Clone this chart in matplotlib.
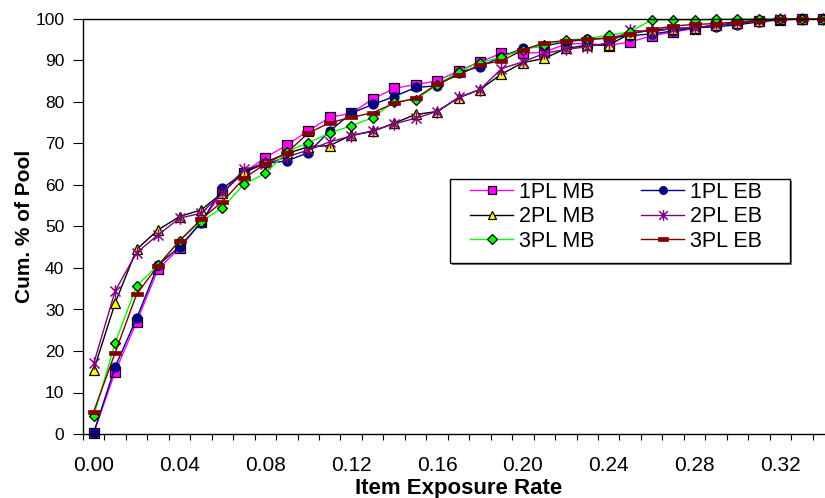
import matplotlib
matplotlib.use("Agg")
import matplotlib.pyplot as plt
from matplotlib.path import Path
from matplotlib.patches import Rectangle
import numpy as np

# ---- data ----
categories = ["0.00", "0.01", "0.02", "0.03", "0.04", "0.05", "0.06", "0.07", "0.08", "0.09",
              "0.10", "0.11", "0.12", "0.13", "0.14", "0.15", "0.16", "0.17", "0.18", "0.19",
              "0.20", "0.21", "0.22", "0.23", "0.24", "0.25", "0.26", "0.27", "0.28", "0.29",
              "0.30", "0.31", "0.32", "0.33", "0.34"]
tick_labels = ["0.00", "0.04", "0.08", "0.12", "0.16", "0.20", "0.24", "0.28", "0.32"]

pl1_mb = [0.3, 15.0, 27.0, 39.7, 44.8, 51.0, 58.3, 63.0, 66.6, 69.6,
          73.1, 76.3, 77.3, 80.7, 83.3, 84.2, 85.1, 87.5, 89.7, 91.7,
          91.7, 92.0, 94.0, 94.1, 93.6, 94.5, 95.9, 96.9, 97.7, 98.5,
          99.0, 99.6, 99.8, 100.0, 100.0]
pl1_eb = [0.3, 16.2, 27.9, 40.7, 45.1, 50.9, 59.2, 63.0, 65.2, 65.8,
          67.8, 73.0, 77.3, 79.4, 81.3, 83.5, 83.9, 87.1, 88.5, 90.9,
          92.9, 93.5, 94.5, 95.1, 95.4, 96.0, 96.4, 97.1, 97.9, 98.1,
          98.6, 99.3, 99.8, 100.0, 100.0]
pl2_mb = [15.4, 31.6, 44.5, 49.2, 52.4, 54.0, 58.1, 63.2, 65.5, 67.6,
          69.2, 69.5, 72.0, 72.9, 74.9, 77.0, 77.7, 81.0, 83.0, 86.7,
          89.5, 90.5, 92.9, 93.7, 93.7, 96.5, 97.3, 97.7, 97.9, 98.5,
          99.0, 99.5, 100.0, 100.0, 100.0]
pl2_eb = [17.0, 34.5, 43.7, 48.0, 52.0, 53.2, 58.0, 63.8, 65.0, 66.8,
          68.4, 70.4, 71.8, 73.1, 74.7, 76.1, 77.7, 81.1, 83.0, 88.0,
          89.7, 91.7, 92.7, 93.3, 94.3, 97.3, 96.9, 97.7, 97.9, 98.5,
          99.0, 99.5, 100.0, 100.0, 100.0]
pl3_mb = [4.3, 22.0, 35.7, 40.7, 46.6, 51.2, 54.5, 60.2, 62.8, 68.0,
          70.2, 72.5, 74.3, 76.2, 80.1, 80.6, 84.1, 87.3, 89.5, 90.8,
          92.6, 93.7, 94.9, 95.3, 96.1, 96.9, 99.8, 99.8, 99.8, 99.9,
          100.0, 100.0, 100.0, 100.0, 100.0]
pl3_eb = [5.4, 19.6, 33.7, 40.6, 46.6, 51.7, 56.0, 61.6, 65.1, 67.8,
          72.5, 75.0, 76.3, 77.4, 79.7, 80.9, 84.3, 86.5, 89.0, 89.9,
          92.5, 94.3, 94.8, 95.1, 95.4, 96.5, 97.5, 98.3, 98.7, 98.9,
          99.3, 99.7, 100.0, 100.0, 100.0]

series_names = ["1PL MB", "1PL EB", "2PL MB", "2PL EB", "3PL MB", "3PL EB"]

# ---- styles ----
star = Path([(-1, -1), (1, 1), (-1, 1), (1, -1), (0, -1.25), (0, 1.25)],
            [Path.MOVETO, Path.LINETO, Path.MOVETO, Path.LINETO, Path.MOVETO, Path.LINETO])
dash = Path([(-1, -0.3), (1, -0.3), (1, 0.3), (-1, 0.3), (-1, -0.3)],
            [Path.MOVETO, Path.LINETO, Path.LINETO, Path.LINETO, Path.CLOSEPOLY])

styles = {
    "1PL MB": dict(color="#FF00FF", marker="s", ms=6.5, mfc="#FF00FF", mec="black", mew=0.9),
    "1PL EB": dict(color="#000080", marker="o", ms=6.5, mfc="#000080", mec="#000080", mew=0.9),
    "2PL MB": dict(color="black", marker="^", ms=7.5, mfc="#FFFF00", mec="black", mew=0.9),
    "2PL EB": dict(color="#800080", marker=star, ms=9, mfc="#800080", mec="#800080", mew=1.1),
    "3PL MB": dict(color="#00FF00", marker="D", ms=5.5, mfc="#00FF00", mec="black", mew=0.9),
    "3PL EB": dict(color="#800000", marker=dash, ms=9, mfc="#800000", mec="#800000", mew=0.5),
}
data = {"1PL MB": pl1_mb, "1PL EB": pl1_eb, "2PL MB": pl2_mb,
        "2PL EB": pl2_eb, "3PL MB": pl3_mb, "3PL EB": pl3_eb}

plt.rcParams["font.family"] = ["Liberation Sans", "DejaVu Sans"]

fig = plt.figure(figsize=(8.25, 4.98), dpi=100)
W, H = 825, 498
left_px, right_px, top_px, bot_px = 83, 834, 19, 434
ax = fig.add_axes([left_px / W, 1 - bot_px / H, (right_px - left_px) / W, (bot_px - top_px) / H])

x = np.arange(len(categories))
handles = {}
for name in series_names:
    st = styles[name]
    (h,) = ax.plot(x, data[name], linewidth=1.0, clip_on=False, **st)
    handles[name] = h

ax.set_xlim(-0.5, len(categories) - 0.5)
ax.set_ylim(0, 100)
ax.set_yticks(np.arange(0, 101, 10))
ax.tick_params(axis="y", direction="out", length=7.5, width=0.8, labelsize=12.5, pad=6)

label_pos = [categories.index(t) for t in tick_labels]
ax.set_xticks(label_pos)
ax.set_xticklabels(tick_labels, fontsize=15)
ax.set_xticks(np.arange(-0.5, len(categories), 1.0), minor=True)
ax.tick_params(axis="x", which="major", length=0, pad=16)
ax.tick_params(axis="x", which="minor", direction="out", length=4.3, width=0.8)

for sp in ax.spines.values():
    sp.set_linewidth(1.0)
    sp.set_color("black")

ax.set_xlabel("Item Exposure Rate", fontsize=16, fontweight="bold", labelpad=2)
ax.set_ylabel("Cum. % of Pool", fontsize=15, fontweight="bold", labelpad=1)

# legend frame drawn explicitly (Excel style box with shadow)
bx0, by_top, bx1, by_bot = 450, 179, 790, 263
fig.add_artist(Rectangle(((bx0 + 2) / W, 1 - (by_bot + 2) / H), (bx1 - bx0) / W, (by_bot - by_top) / H,
                         transform=fig.transFigure, facecolor="#808080", edgecolor="none", zorder=2))
fig.add_artist(Rectangle((bx0 / W, 1 - by_bot / H), (bx1 - bx0) / W, (by_bot - by_top) / H,
                         transform=fig.transFigure, facecolor="white", edgecolor="black",
                         linewidth=1.0, zorder=3))

order = ["1PL MB", "2PL MB", "3PL MB", "1PL EB", "2PL EB", "3PL EB"]
leg = fig.legend([handles[n] for n in order], order, ncol=2, loc="upper left",
                 bbox_to_anchor=(470 / W, 1 - 182 / H),
                 fontsize=15.5, frameon=False, markerscale=0.85,
                 handlelength=2.0, handletextpad=0.28, columnspacing=2.16,
                 labelspacing=0.16, borderpad=0, borderaxespad=0)
leg.set_zorder(5)

fig.savefig("out.png", dpi=100)
